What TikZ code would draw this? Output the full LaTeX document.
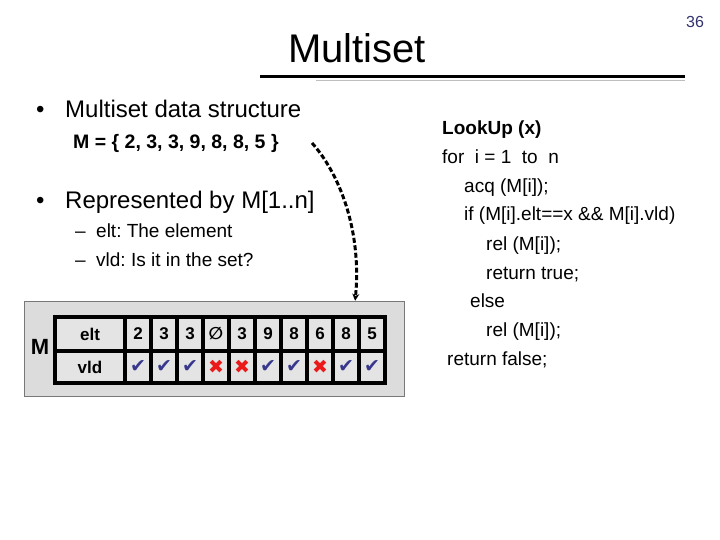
\documentclass[tikz,border=0pt]{standalone}
\usepackage{fontspec}
\setmainfont{Liberation Sans}
\newfontfamily\simbolos{DejaVu Sans}
\usetikzlibrary{positioning,arrows.meta,calc}
\definecolor{panelgris}{RGB}{220,220,220}
\definecolor{celdagris}{RGB}{228,228,228}
\definecolor{marcogris}{RGB}{120,120,120}
\definecolor{sombragris}{RGB}{190,190,190}
\definecolor{azulmarca}{RGB}{55,55,140}
\definecolor{rojomarca}{RGB}{235,25,25}
\definecolor{numpagina}{RGB}{50,50,110}
\newcommand{\marcasi}{\textcolor{azulmarca}{\simbolos ✔}}
\newcommand{\marcano}{\textcolor{rojomarca}{\simbolos ✖}}
\newcommand{\vacio}{{\simbolos\bfseries ∅}}
\frenchspacing

\begin{document}
\begin{tikzpicture}[x=1pt, y=-1pt,
    vineta/.style={anchor=base west, font=\fontsize{24}{28}\selectfont},
    subvineta/.style={anchor=base west, font=\fontsize{19}{22}\selectfont},
    codigo/.style={anchor=base west, inner sep=0pt, font=\fontsize{19}{22}\selectfont},
    celda/.style={draw=black, line width=3.2pt, fill=celdagris, minimum width=26pt,
                  minimum height=34pt, inner sep=0pt, font=\bfseries\fontsize{17}{17}\selectfont},
    flecha/.style={-{Stealth[length=7pt, width=7pt]}, black, line width=3pt,
                   dash pattern=on 5pt off 2.5pt}]
  \useasboundingbox (0,0) rectangle (720,540);
  % titulo
  \node[font=\fontsize{16}{16}\selectfont, text=numpagina] (pagina) at (695,22) {36};
  \node[anchor=base, font=\fontsize{40}{40}\selectfont] (titulo) at (357,63) {Multiset};
  \draw[line width=3pt] (260,77) -- (685,77);
  \draw[sombragris, line width=1pt] (316,80.5) -- (685,80.5);
  % texto izquierdo
  \node[vineta, inner sep=0pt] (bala1) at (36,118) {\textbullet};
  \node[vineta, inner sep=0pt] (estructura) at (65,118) {Multiset data structure};
  \node[anchor=base west, inner sep=0pt, font=\bfseries\fontsize{19.5}{22}\selectfont] (conjunto) at (73,149)
       {M = \{ 2, 3, 3, 9, 8, 8, 5 \}};
  \node[vineta, inner sep=0pt] (bala2) at (36,209) {\textbullet};
  \node[vineta, inner sep=0pt] (representa) at (65,209) {Represented by M[1..n]};
  \node[subvineta, inner sep=0pt] (guion1) at (75,237) {--};
  \node[subvineta, inner sep=0pt] (elt) at (96,237) {elt: The element};
  \node[subvineta, inner sep=0pt] (guion2) at (75,266) {--};
  \node[subvineta, inner sep=0pt] (vld) at (96,266) {vld: Is it in the set?};
  % arreglo M
  \node[draw=marcogris, fill=panelgris, minimum width=380pt, minimum height=95pt, inner sep=0pt]
       (panel) at (214,348.5) {};
  \node[font=\bfseries\fontsize{22}{22}\selectfont] (nombreM) at (40,347) {M};
  \node[celda, minimum width=70pt] (cabelt) at (90,334) {elt};
  \node[celda, minimum width=70pt, minimum height=32pt] (cabvld) at (90,367) {vld};
  \foreach \e/\m [count=\i] in {2/\marcasi, 3/\marcasi, 3/\marcasi, \vacio/\marcano, 3/\marcano,
                                9/\marcasi, 8/\marcasi, 6/\marcano, 8/\marcasi, 5/\marcasi} {
    \node[celda] (e\i) at ({112+26*\i},334) {\e};
    \node[celda, minimum height=32pt, font=\fontsize{19}{19}\selectfont] (v\i) at ({112+26*\i},367) {\m};
  }
  \coordinate (origen) at (312,143);
  \draw[flecha] (origen) .. controls (338,172) and (362,228) .. ($(panel.north west)!0.871!(panel.north east)$);
  % codigo LookUp
  \node[codigo, font=\bfseries\fontsize{19}{22}\selectfont] (lookup) at (442,135) {LookUp (x)};
  \node[codigo] (linea1) at (442,164) {for\ \ i = 1\ \ to\ \ n};
  \node[codigo] (linea2) at (464,193) {acq (M[i]);};
  \node[codigo] (linea3) at (464,221) {if (M[i].elt==x \&\& M[i].vld)};
  \node[codigo] (linea4) at (486,250) {rel (M[i]);};
  \node[codigo] (linea5) at (486,279) {return true;};
  \node[codigo] (linea6) at (470,307) {else};
  \node[codigo] (linea7) at (486,336) {rel (M[i]);};
  \node[codigo] (linea8) at (447,365) {return false;};
\end{tikzpicture}
\end{document}
